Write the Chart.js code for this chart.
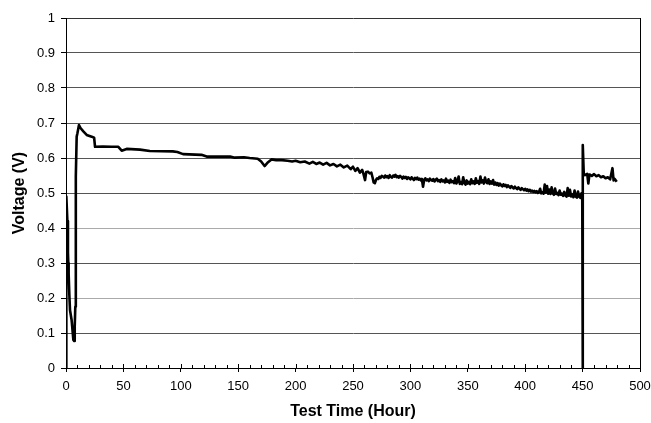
<!DOCTYPE html>
<html lang="en">
<head>
    <meta charset="UTF-8">
    <title>Voltage vs Test Time</title>
    <script src="https://cdn.jsdelivr.net/npm/chart.js"></script>
    <style>
        body { margin: 0; background: #fff; }
        #wrap { width: 651px; height: 423px; }
    </style>
</head>
<body>

<div id="wrap">
    <canvas id="voltageChart"></canvas>
</div>

<script>
    // Test time (hours) and cell voltage (V)
    var hours = [
        0, 0.3, 1.2, 1.7, 2.0, 2.3, 2.9, 3.5, 4.9, 6.4, 7.2, 7.6, 8.1, 8.4, 8.7, 9.3, 9.9, 11.3, 12.8, 15.1, 18, 22.4, 24.5, 25.3,
        32, 40, 45.6, 48.5, 52.8, 64.5, 73, 93, 97, 102, 118, 122.5, 143, 147, 155, 160, 167,
        170, 173, 176, 179, 183, 188, 193, 197, 200, 204, 208, 212, 215, 218, 221, 224, 227, 230, 233, 236, 239, 242, 245, 248,
        250, 252, 254, 256, 258, 259, 260.5, 261.5, 263, 264.5, 266, 267, 268, 269, 270, 271,
        272, 273, 274, 275, 276, 277, 278, 279, 280, 281, 282, 283, 284, 285, 286, 287, 288, 289, 290, 291,
        292, 293, 294, 295, 296, 297, 298, 299, 300, 301, 302, 303, 304, 305, 306, 307, 308, 309, 310, 311,
        312, 313, 314, 315, 316, 317, 318, 319, 320, 321, 322, 323, 324, 325, 326, 327, 328, 329, 330, 331,
        332, 333, 334, 335, 336, 337, 338, 339, 340, 341, 342, 343, 344, 345, 346, 347, 348, 349, 350, 351,
        352, 353, 354, 355, 356, 357, 358, 359, 360, 361, 362, 363, 364, 365, 366, 367, 368, 369, 370, 371,
        372, 373, 374, 375, 376, 377, 378, 379, 380, 381, 382, 383, 384, 385, 386, 387, 388, 389, 390, 391,
        392, 393, 394, 395, 396, 397, 398, 399, 400, 401, 402, 403, 404, 405, 406, 407, 408, 409, 410, 411,
        412, 413, 414, 415, 416, 417, 418, 419, 420, 421, 422, 423, 424, 425, 426, 427, 428, 429, 430, 431,
        432, 433, 434, 435, 436, 437, 438, 439, 440, 441, 442, 443, 444, 445, 446, 447, 448, 449, 449.7,
        450, 450.3, 451,
        452, 454, 455, 456, 458, 460, 462, 464, 466, 468, 470, 472, 474, 476, 477, 478, 479.7
    ];
    var voltage = [
        0, 0.49, 0.42, 0.33, 0.30, 0.27, 0.21, 0.165, 0.137, 0.08, 0.077, 0.118, 0.175, 0.44, 0.547, 0.661, 0.67, 0.694, 0.685, 0.676, 0.666, 0.661, 0.658, 0.632,
        0.633, 0.632, 0.632, 0.621, 0.626, 0.624, 0.62, 0.619, 0.617, 0.611, 0.609, 0.604, 0.604, 0.601, 0.602, 0.6, 0.598,
        0.590, 0.577, 0.588, 0.596, 0.594, 0.594, 0.592, 0.590, 0.592, 0.588, 0.590, 0.584, 0.589, 0.583, 0.587, 0.581, 0.586, 0.579, 0.583, 0.576, 0.581, 0.573, 0.578, 0.568,
        0.575, 0.563, 0.571, 0.558, 0.566, 0.556, 0.537, 0.56, 0.561, 0.556, 0.558, 0.545, 0.53, 0.528, 0.537, 0.542,
        0.540, 0.546, 0.543, 0.549, 0.547, 0.544, 0.550, 0.545, 0.548, 0.543, 0.551, 0.546, 0.544, 0.550, 0.547, 0.552, 0.545, 0.548, 0.544, 0.549,
        0.546, 0.541, 0.547, 0.543, 0.546, 0.540, 0.545, 0.542, 0.539, 0.545, 0.541, 0.537, 0.543, 0.540, 0.544, 0.538, 0.541, 0.536, 0.540, 0.518,
        0.538, 0.542, 0.536, 0.539, 0.534, 0.541, 0.537, 0.535, 0.540, 0.533, 0.538, 0.541, 0.534, 0.537, 0.532, 0.539, 0.533, 0.536, 0.530, 0.541,
        0.532, 0.535, 0.529, 0.538, 0.531, 0.534, 0.528, 0.543, 0.527, 0.533, 0.547, 0.526, 0.531, 0.525, 0.545, 0.529, 0.524, 0.536, 0.527, 0.532,
        0.525, 0.539, 0.528, 0.533, 0.526, 0.542, 0.529, 0.534, 0.526, 0.547, 0.530, 0.536, 0.527, 0.544, 0.531, 0.528, 0.539, 0.526, 0.533, 0.527,
        0.537, 0.524, 0.530, 0.523, 0.528, 0.521, 0.527, 0.522, 0.519, 0.525, 0.520, 0.523, 0.517, 0.522, 0.518, 0.515, 0.520, 0.516, 0.513, 0.518,
        0.514, 0.511, 0.516, 0.512, 0.509, 0.514, 0.511, 0.508, 0.512, 0.507, 0.510, 0.505, 0.509, 0.504, 0.507, 0.503, 0.506, 0.502, 0.505, 0.500,
        0.503, 0.512, 0.499, 0.502, 0.498, 0.524, 0.501, 0.520, 0.498, 0.510, 0.497, 0.516, 0.499, 0.495, 0.513, 0.497, 0.500, 0.494, 0.507, 0.495,
        0.498, 0.492, 0.503, 0.493, 0.490, 0.514, 0.492, 0.509, 0.490, 0.496, 0.488, 0.507, 0.490, 0.487, 0.504, 0.489, 0.486, 0.499, 0.490,
        0, 0.637, 0.556,
        0.551, 0.555, 0.527, 0.553, 0.549, 0.554, 0.548, 0.551, 0.545, 0.548, 0.542, 0.545, 0.539, 0.571, 0.536, 0.540, 0.532
    ];
    var xTicks = [0, 50, 100, 150, 200, 250, 300, 350, 400, 450, 500];
    var yTicks = ['0', '0.1', '0.2', '0.3', '0.4', '0.5', '0.6', '0.7', '0.8', '0.9', '1'];

    var points = hours.map(function (h, i) { return { x: h, y: voltage[i] }; });

    // petites graduations toutes les 10 h, vers l'intérieur
    var minorTicks = {
        id: 'minorTicks',
        afterDraw: function (chart) {
            var ctx = chart.ctx, area = chart.chartArea, x = chart.scales.x;
            ctx.save();
            ctx.strokeStyle = '#000';
            ctx.lineWidth = 1;
            ctx.beginPath();
            for (var v = 0; v <= 500; v += 10) {
                var px = Math.round(x.getPixelForValue(v)) + 0.5;
                var len = v % 50 === 0 ? 4 : 3;
                ctx.moveTo(px, area.bottom);
                ctx.lineTo(px, area.bottom - len);
            }
            ctx.stroke();
            ctx.restore();
        }
    };

    var font = { family: '"Liberation Sans", Arial, sans-serif' };

    new Chart(document.getElementById('voltageChart'), {
        type: 'line',
        data: {
            datasets: [{
                data: points,
                borderColor: '#000',
                borderWidth: 2.6,
                borderJoinStyle: 'round',
                pointRadius: 0,
                tension: 0,
                fill: false
            }]
        },
        options: {
            responsive: true,
            maintainAspectRatio: false,
            animation: false,
            parsing: false,
            layout: { padding: { left: 0, right: 11, top: 18, bottom: 0 } },
            plugins: {
                legend: { display: false },
                tooltip: { enabled: false }
            },
            scales: {
                x: {
                    type: 'linear',
                    min: 0,
                    max: 500,
                    afterBuildTicks: function (scale) {
                        scale.ticks = xTicks.map(function (v) { return { value: v }; });
                    },
                    afterFit: function (scale) {
                        scale.height = 55;
                        scale.paddingLeft = 0;
                        scale.paddingRight = 0;
                    },
                    ticks: {
                        color: '#000',
                        padding: 7,
                        maxRotation: 0,
                        autoSkip: false,
                        font: { family: font.family, size: 13 },
                        callback: function (v) { return String(v); }
                    },
                    grid: {
                        drawOnChartArea: true,
                        color: function (c) { return c.tick && c.tick.value === 500 ? '#000' : 'rgba(0,0,0,0)'; },
                        tickColor: '#000',
                        tickLength: 4,
                        lineWidth: 1
                    },
                    border: { color: '#000', width: 1 },
                    title: {
                        display: true,
                        text: 'Test Time (Hour)',
                        color: '#000',
                        font: { family: font.family, size: 16, weight: 'bold' },
                        padding: { top: 0, bottom: 2 }
                    }
                },
                y: {
                    min: 0,
                    max: 1,
                    afterBuildTicks: function (scale) {
                        scale.ticks = yTicks.map(function (t) { return { value: parseFloat(t) }; });
                    },
                    afterFit: function (scale) {
                        scale.width = 66;
                        scale.paddingTop = 0;
                        scale.paddingBottom = 0;
                    },
                    ticks: {
                        color: '#000',
                        padding: 6,
                        font: { family: font.family, size: 13 },
                        callback: function (v, i) { return yTicks[i]; }
                    },
                    grid: {
                        color: function (c) {
                            var v = c.tick ? Math.round(c.tick.value * 10) : -1;
                            if (v === 0 || v === 10) return '#333';
                            if (v === 2 || v === 4) return '#aaa';
                            return '#555';
                        },
                        tickColor: '#000',
                        tickLength: 5,
                        lineWidth: 1
                    },
                    border: { color: '#000', width: 1 },
                    title: {
                        display: true,
                        text: 'Voltage (V)',
                        color: '#000',
                        font: { family: font.family, size: 16, weight: 'bold' },
                        padding: { top: 10, bottom: 0 }
                    }
                }
            }
        },
        plugins: [minorTicks]
    });
</script>

</body>
</html>
